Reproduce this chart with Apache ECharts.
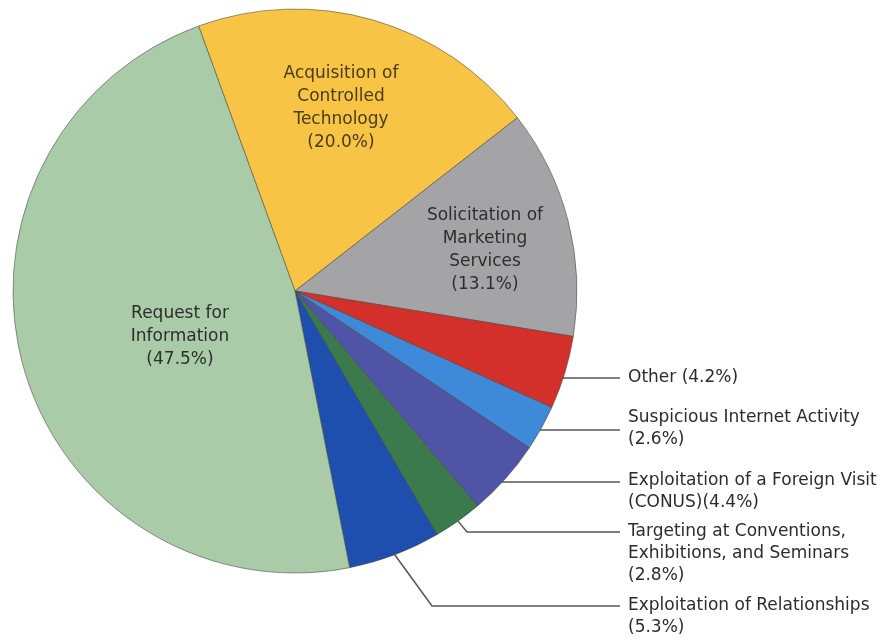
<!DOCTYPE html>
<html><head><meta charset="utf-8">
<script src="https://cdn.jsdelivr.net/npm/echarts@6/dist/echarts.min.js"></script>
<style>html,body{margin:0;padding:0;background:#fff}#c{width:893px;height:640px}</style>
</head><body><div id="c"></div>
<script>
const categories = [
  'Acquisition of Controlled Technology',
  'Solicitation of Marketing Services',
  'Other',
  'Suspicious Internet Activity',
  'Exploitation of a Foreign Visit (CONUS)',
  'Targeting at Conventions, Exhibitions, and Seminars',
  'Exploitation of Relationships',
  'Request for Information'
];
const values = [20.0, 13.1, 4.2, 2.6, 4.4, 2.8, 5.3, 47.5];
const labelTexts = [
  'Acquisition of\nControlled\nTechnology\n(20.0%)',
  'Solicitation of\nMarketing\nServices\n(13.1%)',
  'Other (4.2%)',
  'Suspicious Internet Activity\n(2.6%)',
  'Exploitation of a Foreign Visit\n(CONUS)(4.4%)',
  'Targeting at Conventions,\nExhibitions, and Seminars\n(2.8%)',
  'Exploitation of Relationships\n(5.3%)',
  'Request for\nInformation\n(47.5%)'
];
const colors = ['#f8c446', '#a4a4a6', '#d3302b', '#3f8ad8', '#5054a6', '#3b7a4d', '#1e4fae', '#a9cba8'];

// layout (not data)
const CX = 295, CY = 291, R = 282;
const LINE_END_X = 620, LABEL_X = 628, LH = 22;
const labelPlace = [
  {inside: true, x: 341, y: 108},
  {inside: true, x: 485, y: 250},
  {lineY: 378, top: 367, mode: 'h'},
  {lineY: 430, top: 407, mode: 'h'},
  {lineY: 482, top: 470, mode: 'h'},
  {lineY: 532, top: 521, mode: 'd', elbowX: 467},
  {lineY: 606, top: 595, mode: 'd', elbowX: 432},
  {inside: true, x: 180, y: 337}
];

const chart = echarts.init(document.getElementById('c'));
chart.setOption({
  backgroundColor: '#fff',
  animation: false,
  series: [{
    type: 'pie',
    center: [CX, CY],
    radius: [0, R],
    startAngle: 110,
    clockwise: true,
    avoidLabelOverlap: false,
    itemStyle: {borderColor: 'rgba(70,70,60,0.55)', borderWidth: 1},
    label: {
      show: true,
      position: 'outside',
      fontFamily: 'DejaVu Sans, sans-serif',
      fontSize: 17,
      lineHeight: LH,
      color: '#2c2c2c',
      formatter: p => labelTexts[p.dataIndex]
    },
    labelLine: {show: true, lineStyle: {color: '#555', width: 1.5}},
    data: categories.map((n, i) => {
      const d = {name: n, value: values[i], itemStyle: {color: colors[i]}};
      if (labelPlace[i].inside) {
        d.labelLine = {show: false};
        d.label = {align: 'center', lineHeight: 23, color: i === 0 ? '#4a3c14' : '#2e2e2e'};
      }
      return d;
    }),
    labelLayout: function (p) {
      const cfg = labelPlace[p.dataIndex];
      if (cfg.inside) {
        return {x: cfg.x, y: cfg.y, align: 'center', verticalAlign: 'middle'};
      }
      let pts;
      if (cfg.mode === 'h') {
        const dy = cfg.lineY - CY;
        const sx = CX + Math.sqrt(R * R - dy * dy) - 2;
        pts = [[sx, cfg.lineY], [sx, cfg.lineY], [LINE_END_X, cfg.lineY]];
      } else {
        const start = p.labelLinePoints ? p.labelLinePoints[0] : [CX, CY];
        pts = [start, [cfg.elbowX, cfg.lineY], [LINE_END_X, cfg.lineY]];
      }
      return {x: LABEL_X, y: cfg.top, align: 'left', verticalAlign: 'top', labelLinePoints: pts};
    }
  }]
});
</script>
</body></html>
